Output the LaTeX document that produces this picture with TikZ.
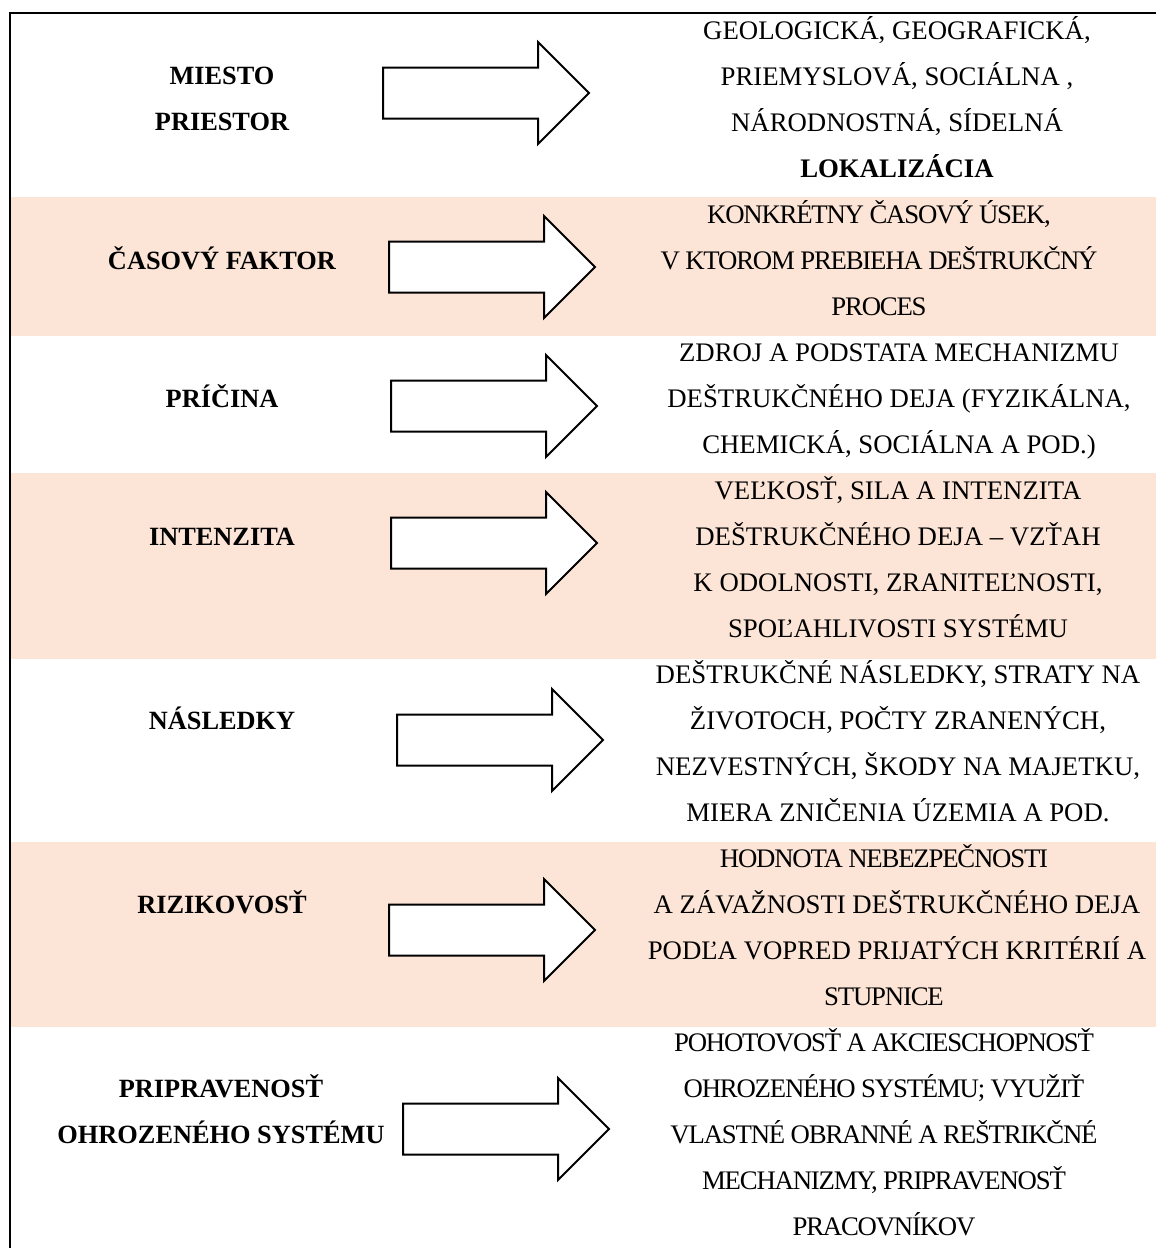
\documentclass[tikz,border=0pt]{standalone}
\usepackage{fontspec}
\setmainfont{Liberation Serif}
\definecolor{bandpeach}{HTML}{FCE4D6}

\tikzset{
  factor/.style={anchor=base, inner sep=0pt, font=\bfseries\fontsize{11.85}{14}\selectfont},
  detail/.style={anchor=base, inner sep=0pt, font=\fontsize{12.05}{14}\selectfont},
  detailsm/.style={detail, font=\fontsize{12.05}{14}\selectfont\addfontfeature{LetterSpace=-4.5}},
  bigarrow/.style={draw, line width=0.9pt, fill=white, line join=miter}
}
% block arrow: left end x, centre y
\newcommand{\fatarrow}[2]{%
  \draw[bigarrow] (#1,#2-25.5) -- ++(155,0) -- ++(0,-25.5) -- ++(51,51)
    -- ++(-51,51) -- ++(0,-25.5) -- ++(-155,0) -- cycle;}

\begin{document}
\begin{tikzpicture}[x=0.45pt,y=-0.45pt]
  \useasboundingbox (0,0) rectangle (1156,1248);

  % --- Shaded bands ---
  \fill[bandpeach] (11,197) rectangle (1156,336);
  \fill[bandpeach] (11,473) rectangle (1156,659);
  \fill[bandpeach] (11,842) rectangle (1156,1027);

  % --- Frame, top and left only ---
  \draw[line width=0.9pt] (10,1248) -- (10,13) -- (1156,13);

  % --- Factors on the left ---
  \node[factor] (miesto)   at (222,84)  {MIESTO};
  \node[factor] (priestor) at (222,130) {PRIESTOR};
  \node[factor] (cas)      at (222,269) {ČASOVÝ FAKTOR};
  \node[factor] (pricina)  at (222,407) {PRÍČINA};
  \node[factor] (intenz)   at (222,545) {INTENZITA};
  \node[factor] (nasl)     at (222,729) {NÁSLEDKY};
  \node[factor] (riziko)   at (222,913) {RIZIKOVOSŤ};
  \node[factor] (prip)     at (221,1097) {PRIPRAVENOSŤ};
  \node[factor] (ohroz)    at (221,1143) {OHROZENÉHO SYSTÉMU};

  % --- Block arrows ---
  \fatarrow{383}{93}
  \fatarrow{389}{267}
  \fatarrow{391}{406}
  \fatarrow{391}{543}
  \fatarrow{397}{740}
  \fatarrow{389}{930}
  \fatarrow{403}{1129}

  % --- Descriptions on the right ---
  \foreach \t [count=\i from 0] in {{GEOLOGICKÁ, GEOGRAFICKÁ,},
      {PRIEMYSLOVÁ, SOCIÁLNA ,}, {NÁRODNOSTNÁ, SÍDELNÁ}, {\textbf{LOKALIZÁCIA}}}
    \node[detail] (d1-\i) at (897,39+46*\i) {\t};
  \foreach \t [count=\i from 0] in {{KONKRÉTNY ČASOVÝ ÚSEK,},
      {V KTOROM PREBIEHA DEŠTRUKČNÝ}, {PROCES}}
    \node[detailsm] (d2-\i) at (879,223+46*\i) {\t};
  \foreach \t [count=\i from 0] in {{ZDROJ A PODSTATA MECHANIZMU},
      {DEŠTRUKČNÉHO DEJA (FYZIKÁLNA,}, {CHEMICKÁ, SOCIÁLNA A POD.)}}
    \node[detail] (d3-\i) at (899,361+46*\i) {\t};
  \foreach \t [count=\i from 0] in {{VEĽKOSŤ, SILA A INTENZITA},
      {DEŠTRUKČNÉHO DEJA – VZŤAH}, {K ODOLNOSTI, ZRANITEĽNOSTI,},
      {SPOĽAHLIVOSTI SYSTÉMU}}
    \node[detail] (d4-\i) at (898,499+46*\i) {\t};
  \foreach \t [count=\i from 0] in {{DEŠTRUKČNÉ NÁSLEDKY, STRATY NA},
      {ŽIVOTOCH, POČTY ZRANENÝCH,}, {NEZVESTNÝCH, ŠKODY NA MAJETKU,},
      {MIERA ZNIČENIA ÚZEMIA A POD.}}
    \node[detail] (d5-\i) at (898,683+46*\i) {\t};
  \node[detailsm] (d6-0) at (884,867)  {HODNOTA NEBEZPEČNOSTI};
  \node[detail]   (d6-1) at (897,913)  {A ZÁVAŽNOSTI DEŠTRUKČNÉHO DEJA};
  \node[detail]   (d6-2) at (897,959)  {PODĽA VOPRED PRIJATÝCH KRITÉRIÍ A};
  \node[detailsm] (d6-3) at (884,1005) {STUPNICE};
  \foreach \t [count=\i from 0] in {{POHOTOVOSŤ A AKCIESCHOPNOSŤ},
      {OHROZENÉHO SYSTÉMU; VYUŽIŤ}, {VLASTNÉ OBRANNÉ A REŠTRIKČNÉ},
      {MECHANIZMY, PRIPRAVENOSŤ}, {PRACOVNÍKOV}}
    \node[detailsm] (d7-\i) at (884,1051+46*\i) {\t};
\end{tikzpicture}
\end{document}
